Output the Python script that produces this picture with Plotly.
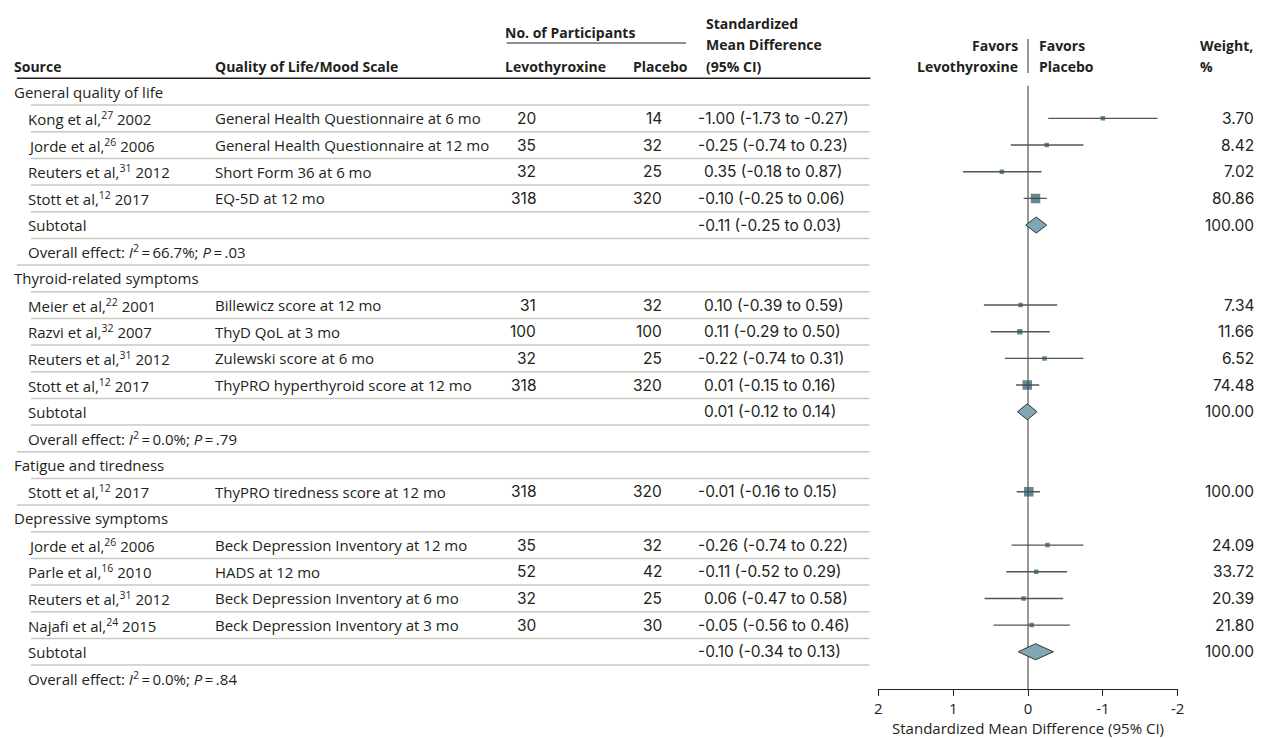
import plotly.graph_objects as go

# ---- data -------------------------------------------------------------
group_names = ["General quality of life", "Thyroid-related symptoms",
               "Fatigue and tiredness", "Depressive symptoms"]

study_group = [0, 0, 0, 0, 1, 1, 1, 1, 2, 3, 3, 3, 3]
study_author = ["Kong et al", "Jorde et al", "Reuters et al", "Stott et al",
                "Meier et al", "Razvi et al", "Reuters et al", "Stott et al",
                "Stott et al",
                "Jorde et al", "Parle et al", "Reuters et al", "Najafi et al"]
study_ref = [27, 26, 31, 12, 22, 32, 31, 12, 12, 26, 16, 31, 24]
study_year = [2002, 2006, 2012, 2017, 2001, 2007, 2012, 2017, 2017,
              2006, 2010, 2012, 2015]
study_scale = ["General Health Questionnaire at 6 mo",
               "General Health Questionnaire at 12 mo",
               "Short Form 36 at 6 mo",
               "EQ-5D at 12 mo",
               "Billewicz score at 12 mo",
               "ThyD QoL at 3 mo",
               "Zulewski score at 6 mo",
               "ThyPRO hyperthyroid score at 12 mo",
               "ThyPRO tiredness score at 12 mo",
               "Beck Depression Inventory at 12 mo",
               "HADS at 12 mo",
               "Beck Depression Inventory at 6 mo",
               "Beck Depression Inventory at 3 mo"]
n_levo = [20, 35, 32, 318, 31, 100, 32, 318, 318, 35, 52, 32, 30]
n_placebo = [14, 32, 25, 320, 32, 100, 25, 320, 320, 32, 42, 25, 30]
smd = [-1.00, -0.25, 0.35, -0.10, 0.10, 0.11, -0.22, 0.01, -0.01,
       -0.26, -0.11, 0.06, -0.05]
ci_low = [-1.73, -0.74, -0.18, -0.25, -0.39, -0.29, -0.74, -0.15, -0.16,
          -0.74, -0.52, -0.47, -0.56]
ci_high = [-0.27, 0.23, 0.87, 0.06, 0.59, 0.50, 0.31, 0.16, 0.15,
           0.22, 0.29, 0.58, 0.46]
weight = [3.70, 8.42, 7.02, 80.86, 7.34, 11.66, 6.52, 74.48, 100.00,
          24.09, 33.72, 20.39, 21.80]

# pooled estimates per group (Fatigue has a single study, no pooling)
sub_group = [0, 1, 3]
sub_smd = [-0.11, 0.01, -0.10]
sub_low = [-0.25, -0.12, -0.34]
sub_high = [0.03, 0.14, 0.13]
sub_weight = [100.00, 100.00, 100.00]
sub_i2 = ["66.7%", "0.0%", "0.0%"]
sub_p = [".03", ".79", ".84"]

tick_values = [2, 1, 0, -1, -2]
tick_labels = ["2", "1", "0", "-1", "-2"]

# ---- layout constants (pixels) -----------------------------------------
W, H = 1267, 738
ROW0, PITCH = 91.7, 26.67
AXIS_Y = 689.3
PLOT_X0, PLOT_X1 = 882, 1184
X_GROUP, X_STUDY, X_SCALE = 10, 24, 213
X_LEVO, X_PLAC, X_CI, X_WT = 537, 664, 700, 1261
LINE_END = 873
FONT = "Open Sans"
NUMFONT = "Inter"
TXT = "#231f20"
BODY = 15
NUM = 15.5
HEAD = 14

MARK = "#2a5463"
DIAM = "#7fa7b4"


def px(x):
    return x / W


# ---- build rows ----------------------------------------------------------
rows = []  # (kind, index)
for g, name in enumerate(group_names):
    rows.append(("group", g))
    for i, sg in enumerate(study_group):
        if sg == g:
            rows.append(("study", i))
    if g in sub_group:
        k = sub_group.index(g)
        rows.append(("subtotal", k))
        rows.append(("overall", k))

row_y = [ROW0 + PITCH * r for r in range(len(rows))]

annotations = []
shapes = []


def text(x, y, s, anchor="left", size=BODY, bold=False, family=FONT):
    if bold:
        s = "<b>" + s + "</b>"
    annotations.append(dict(x=px(x), y=y, xref="paper", yref="y", text=s,
                            showarrow=False, xanchor=anchor, yanchor="middle",
                            borderpad=0, borderwidth=0,
                            font=dict(family=family, size=size, color=TXT)))


def num(x, y, s, anchor="left"):
    text(x, y, s, anchor=anchor, size=NUM, family=NUMFONT)


def ci_text(est, lo, hi):
    return f"{est:.2f} ({lo:.2f} to {hi:.2f})"


# header texts
text(X_GROUP, 66, "Source", bold=True, size=HEAD)
text(X_SCALE, 66, "Quality of Life/Mood Scale", bold=True, size=HEAD)
text(505, 32, "No. of Participants", bold=True, size=HEAD)
text(505, 66, "Levothyroxine", bold=True, size=HEAD)
text(690, 66, "Placebo", anchor="right", bold=True, size=HEAD)
text(708, 23, "Standardized", bold=True, size=HEAD)
text(708, 44.5, "Mean Difference", bold=True, size=HEAD)
text(708, 66, "(95% CI)", bold=True, size=HEAD)
text(1023, 45, "Favors", anchor="right", bold=True, size=HEAD)
text(1023, 66, "Levothyroxine", anchor="right", bold=True, size=HEAD)
text(1044, 45, "Favors", bold=True, size=HEAD)
text(1044, 66, "Placebo", bold=True, size=HEAD)
text(1206, 45, "Weight,", bold=True, size=HEAD)
text(1206, 66, "%", bold=True, size=HEAD)

# header rules
shapes.append(dict(type="line", xref="paper", yref="y", x0=px(507), x1=px(688),
                   y0=43, y1=43, line=dict(color="#231f20", width=1.2)))
shapes.append(dict(type="line", xref="paper", yref="y", x0=px(13),
                   x1=px(LINE_END + 1), y0=ROW0 - PITCH / 2, y1=ROW0 - PITCH / 2,
                   line=dict(color="#231f20", width=1.5)))
# divider between the two "Favors" labels
shapes.append(dict(type="line", xref="x", yref="y", x0=0, x1=0, y0=39, y1=73,
                   line=dict(color="#777777", width=1.5)))

line_x, line_y = [], []
mk_x, mk_y, mk_s = [], [], []

for r, (kind, k) in enumerate(rows):
    y = row_y[r]
    if kind == "group":
        text(X_GROUP, y, group_names[k])
    elif kind == "study":
        text(X_STUDY, y, f"{study_author[k]},<sup>{study_ref[k]}</sup> {study_year[k]}")
        text(X_SCALE, y, study_scale[k])
        num(X_LEVO, y, str(n_levo[k]), anchor="right")
        num(X_PLAC, y, str(n_placebo[k]), anchor="right")
        num(X_CI + (0 if smd[k] < 0 else 6), y, ci_text(smd[k], ci_low[k], ci_high[k]))
        num(X_WT, y, f"{weight[k]:.2f}", anchor="right")
        line_x += [ci_low[k], ci_high[k], None]
        line_y += [y, y, None]
        mk_x.append(smd[k])
        mk_y.append(y)
        mk_s.append(max(4.5, 9.5 * ((n_levo[k] + n_placebo[k]) / 638) ** 0.5))
    elif kind == "subtotal":
        text(X_STUDY, y, "Subtotal")
        num(X_CI + (0 if sub_smd[k] < 0 else 6), y,
            ci_text(sub_smd[k], sub_low[k], sub_high[k]))
        num(X_WT, y, f"{sub_weight[k]:.2f}", anchor="right")
    elif kind == "overall":
        text(X_STUDY, y, "Overall effect: <i>I</i><sup>2</sup>\u2009=\u2009"
             f"{sub_i2[k]}; <i>P</i>\u2009=\u2009{sub_p[k]}")

    # separator below the row, indented like the following row
    if r < len(rows) - 1:
        nxt = rows[r + 1][0]
        x0 = 13 if nxt == "group" else 27
        yl = y + PITCH / 2
        shapes.append(dict(type="line", xref="paper", yref="y", x0=px(x0),
                           x1=px(LINE_END), y0=yl, y1=yl,
                           line=dict(color="#c9c9c2", width=1.5)))

# no-effect line
shapes.append(dict(type="line", xref="x", yref="y", x0=0, x1=0, y0=ROW0 - 6,
                   y1=AXIS_Y, line=dict(color="#777777", width=1.5), layer="below"))

fig = go.Figure()

fig.add_trace(go.Scatter(x=line_x, y=line_y, mode="lines",
                         line=dict(color="#555555", width=1.4),
                         hoverinfo="skip", showlegend=False))
fig.add_trace(go.Scatter(x=mk_x, y=mk_y, mode="markers",
                         marker=dict(symbol="square", size=mk_s, color=MARK,
                                     line=dict(width=0)),
                         showlegend=False))

# pooled-estimate diamonds
sub_rows = [r for r, (kind, _) in enumerate(rows) if kind == "subtotal"]
for k, r in enumerate(sub_rows):
    y = row_y[r]
    h = 8
    fig.add_trace(go.Scatter(
        x=[sub_low[k], sub_smd[k], sub_high[k], sub_smd[k], sub_low[k]],
        y=[y, y - h, y, y + h, y],
        mode="lines", fill="toself", fillcolor=DIAM,
        line=dict(color="#333333", width=1), hoverinfo="skip", showlegend=False))

fig.update_layout(
    width=W, height=H,
    margin=dict(l=0, r=0, t=0, b=0),
    paper_bgcolor="white", plot_bgcolor="white",
    annotations=annotations, shapes=shapes,
    xaxis=dict(domain=[px(PLOT_X0), px(PLOT_X1)], range=[2, -2],
               tickvals=tick_values, ticktext=tick_labels,
               showgrid=False, zeroline=False,
               showline=True, linecolor="#231f20", linewidth=1.2,
               ticks="outside", ticklen=6, tickcolor="#231f20", tickwidth=1.2,
               tickfont=dict(family=FONT, size=15, color=TXT),
               title=dict(text="Standardized Mean Difference (95% CI)",
                          font=dict(family=FONT, size=15, color=TXT), standoff=2)),
    yaxis=dict(domain=[(H - AXIS_Y) / H, 1], range=[AXIS_Y, 0],
               visible=False, showgrid=False, zeroline=False),
)

fig.write_html("out.html")
